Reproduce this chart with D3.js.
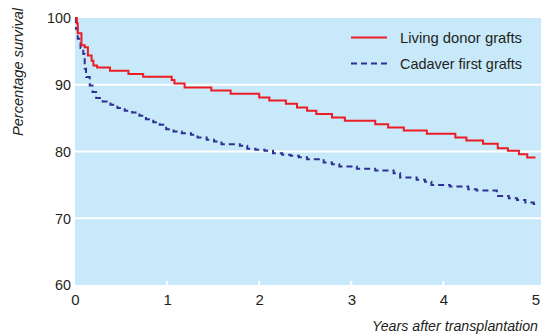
<!DOCTYPE html>
<html>
<head>
<meta charset="utf-8">
<script src="https://cdn.jsdelivr.net/npm/d3@7"></script>
<style>
  body { margin: 0; background: #fff; }
  svg text { font-family: "Liberation Sans", Arial, sans-serif; fill: #231f20; }
</style>
</head>
<body>
<script>
// survival data (years, percentage surviving)
var livingYears = [0, 0.02, 0.03, 0.07, 0.105, 0.14, 0.18, 0.2, 0.24, 0.38, 0.58, 0.74, 1.05, 1.08, 1.19,
    1.48, 1.69, 2.0, 2.11, 2.29, 2.41, 2.52, 2.62, 2.79, 2.93, 3.26, 3.4, 3.57, 3.82, 4.13, 4.25,
    4.43, 4.59, 4.7, 4.82, 4.91, 5.0];
var livingSurvival = [100, 99.2, 97.7, 95.9, 95.6, 94.4, 93.6, 92.9, 92.6, 92.1, 91.6, 91.2, 90.7, 90.2, 89.6,
    89.15, 88.65, 88.1, 87.65, 87.15, 86.6, 86.1, 85.6, 85.1, 84.6, 84.1, 83.6, 83.15, 82.65, 82.1, 81.65,
    81.15, 80.5, 80.1, 79.6, 79.1, 79.1];

var cadaverYears = [0, 0.01, 0.03, 0.06, 0.09, 0.105, 0.12, 0.16, 0.19, 0.23, 0.30, 0.385, 0.46, 0.54, 0.62,
    0.70, 0.77, 0.85, 0.92, 0.99, 1.07, 1.16, 1.26, 1.33, 1.43, 1.51, 1.59, 1.79, 1.87, 1.96, 2.06,
    2.15, 2.25, 2.34, 2.43, 2.52, 2.70, 2.79, 2.87, 3.06, 3.26, 3.46, 3.53, 3.71, 3.8, 3.87, 4.07,
    4.27, 4.36, 4.58, 4.71, 4.8, 4.89, 4.98, 5.0];
var cadaverSurvival = [100, 98.4, 96.9, 95.5, 94.6, 92.4, 91.15, 89.9, 88.9, 88.0, 87.5, 87.0, 86.5, 86.1, 85.85,
    85.35, 84.85, 84.4, 84.0, 83.35, 83.0, 82.75, 82.5, 82.1, 81.75, 81.5, 81.1, 80.85, 80.4, 80.25, 80.1,
    79.75, 79.5, 79.35, 79.15, 78.85, 78.35, 78.1, 77.75, 77.4, 77.15, 76.75, 76.1, 75.75, 75.45, 75.0, 74.75,
    74.35, 74.15, 73.35, 73.0, 72.75, 72.35, 72.15, 72.15];

var xTicks = [0, 1, 2, 3, 4, 5];
var yTicks = [60, 70, 80, 90, 100];
var seriesNames = ["Living donor grafts", "Cadaver first grafts"];

var width = 541,
    height = 335;
var margin = {top: 18, right: 5, bottom: 50, left: 75};

var svg = d3.select("body")
    .append("svg")
    .attr("width", width)
    .attr("height", height);

var x = d3.scaleLinear()
    .domain([0, 5])
    .range([margin.left, width - margin.right - 0.5]);

var y = d3.scaleLinear()
    .domain([60, 100])
    .range([height - margin.bottom, margin.top]);

// plot background
svg.append("rect")
    .attr("x", x(0))
    .attr("y", y(100))
    .attr("width", width - x(0))
    .attr("height", y(60) - y(100))
    .attr("fill", "#c7e9f9");

// white gridlines
svg.selectAll(".grid")
    .data([70, 80, 90])
    .enter()
    .append("line")
    .attr("x1", x(0))
    .attr("x2", width)
    .attr("y1", function(d) { return y(d); })
    .attr("y2", function(d) { return y(d); })
    .attr("stroke", "#fff")
    .attr("stroke-width", 2);

// little white tick marks inside the bottom
svg.selectAll(".tick-mark")
    .data([1, 2, 3, 4])
    .enter()
    .append("line")
    .attr("x1", function(d) { return x(d); })
    .attr("x2", function(d) { return x(d); })
    .attr("y1", y(60) - 4)
    .attr("y2", y(60))
    .attr("stroke", "#fff")
    .attr("stroke-width", 2);

// axes (labels only)
var xAxis = svg.append("g")
    .attr("transform", "translate(0," + y(60) + ")")
    .call(d3.axisBottom(x).tickValues(xTicks).tickFormat(d3.format("d")).tickSize(0).tickPadding(9));
xAxis.select(".domain").remove();
xAxis.selectAll("text").attr("font-size", 15).attr("font-family", null).attr("fill", null);

var yAxis = svg.append("g")
    .attr("transform", "translate(" + x(0) + ",0)")
    .call(d3.axisLeft(y).tickValues(yTicks).tickSize(0).tickPadding(4));
yAxis.select(".domain").remove();
yAxis.selectAll("text").attr("font-size", 15).attr("font-family", null).attr("fill", null)
    .attr("textLength", function(d) { return d === 100 ? 24 : 16; })
    .attr("lengthAdjust", "spacingAndGlyphs");

// axis titles
svg.append("text")
    .attr("transform", "translate(23,72) rotate(-90)")
    .attr("text-anchor", "middle")
    .attr("font-style", "italic")
    .attr("font-size", 14)
    .attr("textLength", 128)
    .attr("lengthAdjust", "spacingAndGlyphs")
    .text("Percentage survival");

svg.append("text")
    .attr("x", 538)
    .attr("y", 331)
    .attr("text-anchor", "end")
    .attr("font-style", "italic")
    .attr("font-size", 14)
    .attr("textLength", 166)
    .attr("lengthAdjust", "spacingAndGlyphs")
    .text("Years after transplantation");

// step curves
var line = d3.line()
    .x(function(d) { return x(d[0]); })
    .y(function(d) { return y(d[1]); })
    .curve(d3.curveStepAfter);

var livingData = d3.zip(livingYears, livingSurvival),
    cadaverData = d3.zip(cadaverYears, cadaverSurvival);

svg.append("path")
    .datum(cadaverData)
    .attr("d", line)
    .attr("fill", "none")
    .attr("stroke", "#2e3192")
    .attr("stroke-width", 2)
    .attr("stroke-dasharray", "6,4");

svg.append("path")
    .datum(livingData)
    .attr("d", line)
    .attr("fill", "none")
    .attr("stroke", "#ed1c24")
    .attr("stroke-width", 2);

// legend
var legend = svg.append("g");
var legendColors = ["#ed1c24", "#2e3192"],
    legendDash = [null, "6,4"];

seriesNames.forEach(function(name, i) {
    var ly = 37.5 + i * 26;
    legend.append("line")
        .attr("x1", 351)
        .attr("x2", 387)
        .attr("y1", ly)
        .attr("y2", ly)
        .attr("stroke", legendColors[i])
        .attr("stroke-width", 2)
        .attr("stroke-dasharray", legendDash[i]);
    legend.append("text")
        .attr("x", 400)
        .attr("y", ly + 5.5)
        .attr("font-size", 15)
        .attr("textLength", 122)
        .attr("lengthAdjust", "spacingAndGlyphs")
        .text(name);
});
</script>
</body>
</html>
